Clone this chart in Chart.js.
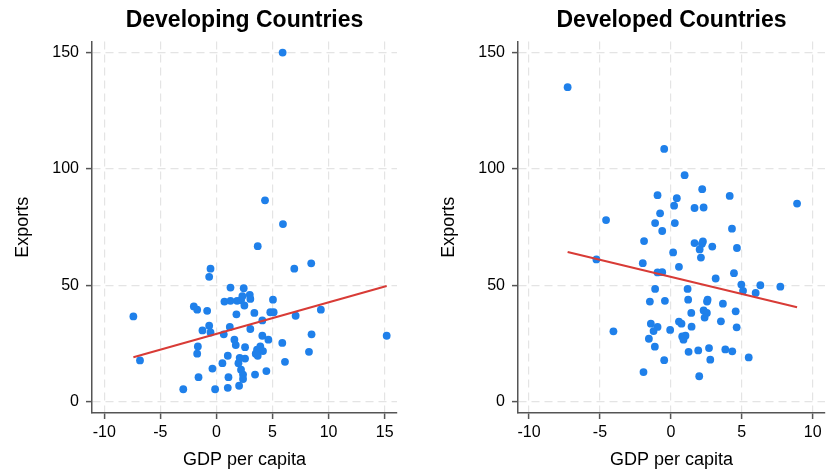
<!DOCTYPE html>
<html>
<head>
<meta charset="utf-8">
<title>Exports vs GDP per capita</title>
<script src="https://cdn.jsdelivr.net/npm/chart.js@4"></script>
<style>
  html, body { margin: 0; padding: 0; background: #fff; }
  #wrap { position: relative; width: 830px; height: 473px; overflow: hidden; }
  #wrap canvas { position: absolute; top: 0; }
  #devingChart { left: 0; }
  #devedChart { left: 426px; }
</style>
</head>
<body>
<div id="wrap">
  <canvas id="devingChart" width="415" height="473"></canvas>
  <canvas id="devedChart" width="404" height="473"></canvas>
</div>
<script>
// Values (GDP per capita growth, exports)

// Developing countries
const devingGdp = [
  5.9, 4.33, 5.93, 3.68, -0.53, -0.65, 6.94, 8.45, 1.25, 2.43,
  -7.41, -6.82, -2.96, -2.02, -1.72, -0.83, -0.65, -1.25, -0.53, -1.66,
  -1.72, -1.60, -0.36, -0.12, 0.53, 1.01, 1.07, 1.01, 0.65, 1.19,
  0.71, 1.25, 1.84, 2.19, 2.31, 2.49, 2.97, 3.02, 1.78, 3.38,
  5.04, 4.80, 5.10, 4.09, 3.02, 1.60, 1.72, 2.55, 4.09, 4.63,
  3.91, 3.62, 4.15, 3.50, 3.68, 2.07, 2.55, 1.96, 2.19, 2.37,
  2.37, 2.02, 3.44, 4.45, 5.87, 6.11, 7.06, 9.31, 8.48, 8.25,
  15.18
];
const devingExports = [
  150, 86.5, 76.3, 66.8, 57.1, 53.6, 57.1, 59.4, 49.0, 48.7,
  36.6, 17.7, 5.3, 40.9, 39.5, 39.0, 32.6, 30.6, 29.7, 23.7,
  20.6, 10.5, 14.2, 5.3, 16.5, 19.7, 10.5, 5.9, 28.9, 32.1,
  43.0, 43.3, 43.3, 43.5, 45.3, 41.3, 45.9, 44.1, 37.5, 38.1,
  43.8, 38.4, 38.4, 34.9, 31.2, 26.6, 24.3, 23.4, 28.3, 26.6,
  23.7, 22.3, 21.7, 20.6, 19.7, 18.8, 18.5, 16.5, 13.7, 11.6,
  9.7, 6.8, 11.6, 13.1, 25.2, 17.1, 36.9, 39.5, 28.9, 21.4,
  28.3
];
const devingFit = { intercept: 29.1, slope: 1.353 };

// Developed countries
const devedGdp = [
  -7.28, -0.47, 0.97, 2.21, -0.94, 0.42, 4.15, 0.23, 1.67, 2.31,
  8.90, -0.76, -4.57, -1.11, 0.28, 4.31, -0.61, -1.89, 1.67, 2.26,
  2.19, 2.92, 2.03, 4.66, 0.16, 2.12, -5.25, -1.98, 0.57, -0.94,
  -0.61, 4.45, 3.16, -1.11, 1.18, 4.97, 6.31, 7.72, 5.09, 5.98,
  -1.48, -0.42, 1.22, 2.59, 2.55, 3.67, 1.44, 2.31, 2.54, 2.38,
  4.57, -1.41, -0.94, -1.22, -4.05, -0.05, 0.57, 0.75, 1.46, 3.53,
  4.64, -1.55, 0.80, 1.03, 0.89, -1.13, 1.25, 1.93, 2.69, 3.84,
  4.33, 5.49, 2.78, -0.47, -1.93, 2.00
];
const devedExports = [
  135.1, 108.6, 97.3, 91.3, 88.7, 87.4, 88.4, 84.2, 83.2, 83.4,
  85.1, 80.9, 78.0, 76.7, 76.7, 74.3, 73.3, 69.0, 68.1, 68.8,
  67.8, 66.6, 65.4, 66.0, 64.1, 61.9, 61.1, 59.5, 57.9, 55.5,
  55.6, 55.2, 52.9, 48.4, 48.4, 50.3, 50.0, 49.4, 47.6, 46.7,
  43.0, 43.3, 43.8, 43.8, 43.0, 42.1, 38.1, 39.2, 38.1, 36.1,
  38.8, 33.5, 32.1, 30.3, 30.2, 30.8, 34.4, 33.5, 32.2, 34.5,
  31.9, 27.0, 28.0, 28.3, 26.6, 23.6, 21.4, 22.0, 23.0, 22.4,
  21.6, 19.0, 18.0, 17.8, 12.7, 10.9
];
const devedFit = { intercept: 53.6, slope: -1.469 };

const xTicksStep = 5;
const yTicksStep = 50;

const FONT = "'Liberation Sans', Arial, Helvetica, sans-serif";
const DOT = '#1f80ea';
const FITLINE = '#d83b36';
const AXIS = '#555';
const GRID = '#e4e4e4';

// build {x,y} points from two arrays
function toPoints(xs, ys) {
  return xs.map((x, i) => ({ x: x, y: ys[i] }));
}

// fitted line over the data's x range
function fitPoints(xs, fit) {
  const lo = Math.min(...xs), hi = Math.max(...xs);
  return [lo, hi].map(x => ({ x: x, y: fit.intercept + fit.slope * x }));
}

function axisOpts(extra) {
  return Object.assign({
    type: 'linear',
    grid: {
      color: GRID, lineWidth: 1.2,
      drawTicks: true, tickLength: 6, tickColor: AXIS, tickWidth: 1.5,
      tickBorderDash: []
    },
    border: { display: true, color: AXIS, width: 1.5, dash: [8, 5] }
  }, extra);
}

function renderPanel(canvasId, title, xs, ys, fit, xRange, padRight) {
  const ctx = document.getElementById(canvasId).getContext('2d');
  return new Chart(ctx, {
    type: 'scatter',
    data: {
      datasets: [
        {
          data: toPoints(xs, ys),
          backgroundColor: DOT,
          borderWidth: 0,
          pointRadius: 3.9,
          order: 2
        },
        {
          type: 'line',
          data: fitPoints(xs, fit),
          borderColor: FITLINE,
          borderWidth: 2,
          pointRadius: 0,
          fill: false,
          order: 1
        }
      ]
    },
    options: {
      responsive: false,
      animation: false,
      layout: { padding: { left: 0, right: padRight, top: 0, bottom: 0 } },
      plugins: {
        legend: { display: false },
        tooltip: { enabled: false },
        title: {
          display: true,
          text: title,
          fullSize: false,
          color: '#000',
          font: { family: FONT, size: 23, weight: 'bold' },
          padding: { top: 7, bottom: 7 }
        }
      },
      scales: {
        x: axisOpts({
          min: xRange[0], max: xRange[1],
          afterFit: s => { s.height = 60; },
          ticks: {
            stepSize: xTicksStep, includeBounds: false, padding: 4,
            color: '#000', font: { family: FONT, size: 16 }
          },
          title: {
            display: true, text: 'GDP per capita', color: '#000',
            font: { family: FONT, size: 18 }, padding: { top: 0, bottom: 2 }
          }
        }),
        y: axisOpts({
          min: -4.9, max: 154.7,
          afterFit: s => { s.width = 92; },
          ticks: {
            stepSize: yTicksStep, includeBounds: false, padding: 7,
            color: '#000', font: { family: FONT, size: 16 }
          },
          title: {
            display: true, text: 'Exports', color: '#000',
            font: { family: FONT, size: 18 }, padding: { top: 12, bottom: 0 }
          }
        })
      }
    }
  });
}

renderPanel('devingChart', 'Developing Countries', devingGdp, devingExports, devingFit, [-11.1, 16.1], 18);
renderPanel('devedChart', 'Developed Countries', devedGdp, devedExports, devedFit, [-10.78, 10.87], 5);
</script>
</body>
</html>
